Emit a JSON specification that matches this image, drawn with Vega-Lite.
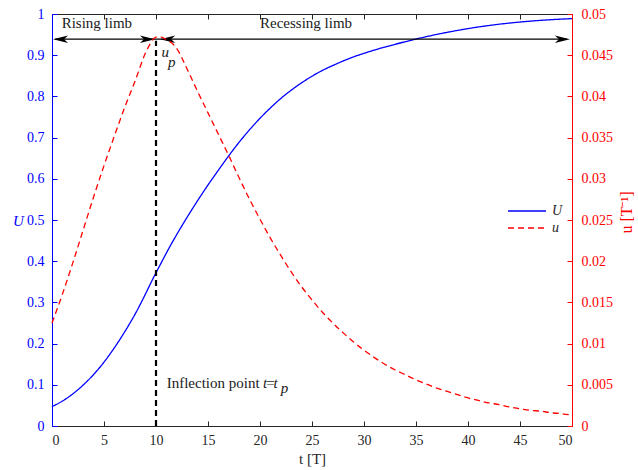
{
  "$schema": "https://vega.github.io/schema/vega-lite/v6.json",
  "width": 520,
  "height": 412,
  "autosize": {"type": "none"},
  "padding": {"left": 52, "top": 14, "right": 66, "bottom": 44},
  "background": "white",
  "config": {
    "view": {"stroke": null},
    "font": "Liberation Serif, Times New Roman, serif",
    "axis": {"grid": false, "labelFont": "Liberation Serif, Times New Roman, serif", "titleFont": "Liberation Serif, Times New Roman, serif", "labelFontSize": 14, "titleFontSize": 15, "titleFontWeight": "normal", "tickSize": -5, "domainWidth": 1, "tickWidth": 1},
    "legend": {"labelFont": "Liberation Serif, Times New Roman, serif", "padding": 0}
  },
  "datasets": {
    "curves": [
      {"t": 0, "U": 0.047, "u": 0.0125}, {"t": 1, "U": 0.0605, "u": 0.016}, {"t": 2, "U": 0.078, "u": 0.0198},
      {"t": 3, "U": 0.0995, "u": 0.0238}, {"t": 4, "U": 0.125, "u": 0.0278}, {"t": 5, "U": 0.155, "u": 0.0316},
      {"t": 6, "U": 0.19, "u": 0.0352}, {"t": 7, "U": 0.229, "u": 0.0387}, {"t": 8, "U": 0.272, "u": 0.0419},
      {"t": 9, "U": 0.321, "u": 0.0453}, {"t": 9.5, "U": 0.347, "u": 0.0465}, {"t": 10, "U": 0.372, "u": 0.0472},
      {"t": 10.5, "U": 0.396, "u": 0.0472}, {"t": 11, "U": 0.42, "u": 0.0469}, {"t": 11.5, "U": 0.443, "u": 0.0465},
      {"t": 12, "U": 0.465, "u": 0.0458},
      {"t": 13, "U": 0.507, "u": 0.0433}, {"t": 14, "U": 0.547, "u": 0.0406}, {"t": 15, "U": 0.585, "u": 0.038},
      {"t": 16, "U": 0.621, "u": 0.0354}, {"t": 17, "U": 0.656, "u": 0.0328}, {"t": 18, "U": 0.689, "u": 0.0301},
      {"t": 19, "U": 0.719, "u": 0.0275}, {"t": 20, "U": 0.747, "u": 0.0251}, {"t": 21, "U": 0.772, "u": 0.0228},
      {"t": 22, "U": 0.795, "u": 0.0207}, {"t": 23, "U": 0.815, "u": 0.0187}, {"t": 24, "U": 0.833, "u": 0.0169},
      {"t": 25, "U": 0.849, "u": 0.0153}, {"t": 26, "U": 0.863, "u": 0.0138}, {"t": 27, "U": 0.875, "u": 0.0125},
      {"t": 28, "U": 0.886, "u": 0.0113}, {"t": 29, "U": 0.896, "u": 0.0102}, {"t": 30, "U": 0.9045, "u": 0.0092},
      {"t": 31, "U": 0.9125, "u": 0.0083}, {"t": 32, "U": 0.9197, "u": 0.0075}, {"t": 33, "U": 0.9265, "u": 0.0068},
      {"t": 34, "U": 0.933, "u": 0.0062}, {"t": 35, "U": 0.9392, "u": 0.0056}, {"t": 36, "U": 0.945, "u": 0.0051},
      {"t": 37, "U": 0.9505, "u": 0.0046}, {"t": 38, "U": 0.9555, "u": 0.0042}, {"t": 39, "U": 0.9602, "u": 0.0038},
      {"t": 40, "U": 0.9645, "u": 0.0034}, {"t": 41, "U": 0.9685, "u": 0.0031}, {"t": 42, "U": 0.972, "u": 0.0028},
      {"t": 43, "U": 0.9752, "u": 0.0026}, {"t": 44, "U": 0.978, "u": 0.0023}, {"t": 45, "U": 0.9805, "u": 0.0021},
      {"t": 46, "U": 0.9827, "u": 0.0019}, {"t": 47, "U": 0.9846, "u": 0.0018}, {"t": 48, "U": 0.9862, "u": 0.0016},
      {"t": 49, "U": 0.9876, "u": 0.0015}, {"t": 50, "U": 0.9888, "u": 0.0013}
    ],
    "heads": [
      {"t": 0.1, "U": 0.939, "dir": "left"},
      {"t": 9.9, "U": 0.939, "dir": "right"},
      {"t": 10.4, "U": 0.939, "dir": "left"},
      {"t": 49.8, "U": 0.939, "dir": "right"}
    ],
    "normalText": [
      {"t": 0.93, "U": 0.965, "text": "Rising limb"},
      {"t": 20.0, "U": 0.965, "text": "Recessing limb"},
      {"t": 11.03, "U": 0.092, "text": "Inflection point"},
      {"t": 20.6, "U": 0.092, "text": "="}
    ],
    "italicText": [
      {"t": 10.52, "U": 0.896, "text": "u"},
      {"t": 11.15, "U": 0.872, "text": "p"},
      {"t": 20.3, "U": 0.092, "text": "t"},
      {"t": 21.3, "U": 0.092, "text": "t"},
      {"t": 22.0, "U": 0.08, "text": "p"}
    ]
  },
  "layer": [
    {
      "layer": [
        {
          "data": {"name": "curves"},
          "mark": {"type": "line", "strokeWidth": 1.3, "interpolate": "monotone"},
          "encoding": {
            "x": {"field": "t", "type": "quantitative", "scale": {"domain": [0, 50], "nice": false},
              "axis": {"orient": "bottom", "values": [0, 5, 10, 15, 20, 25, 30, 35, 40, 45, 50], "format": "~g", "labelColor": "#262626", "tickColor": "#262626", "domainColor": "#262626", "labelPadding": 12, "title": "t [T]", "titleColor": "#262626", "titlePadding": 4}},
            "y": {"field": "U", "type": "quantitative", "scale": {"domain": [0, 1], "nice": false},
              "axis": {"orient": "left", "values": [0, 0.1, 0.2, 0.3, 0.4, 0.5, 0.6, 0.7, 0.8, 0.9, 1], "format": "~g", "labelColor": "#0000ff", "tickColor": "#0000ff", "domainColor": "#0000ff", "labelPadding": 13, "title": "U", "titleColor": "#0000ff", "titleFontStyle": "italic", "titleAngle": 0, "titleX": -34, "titleY": 206, "titleAlign": "center", "titleBaseline": "middle"}},
            "color": {"datum": "U", "type": "nominal", "scale": {"domain": ["U", "u"], "range": ["#0000ff", "#ff0000"]},
              "legend": {"title": null, "orient": "none", "legendX": 468, "legendY": 190, "symbolType": "M-3.8,0L3.8,0", "symbolSize": 100, "symbolStrokeWidth": 1.3, "labelFontSize": 14, "labelFontStyle": "italic", "labelColor": "#262626", "rowPadding": 3, "labelOffset": 18}},
            "strokeDash": {"datum": "U", "type": "nominal", "scale": {"domain": ["U", "u"], "range": [[1, 0], [6, 4]]},
              "legend": {"title": null, "orient": "none", "legendX": 468, "legendY": 190, "symbolType": "M-3.8,0L3.8,0", "symbolSize": 100, "symbolStrokeWidth": 1.3, "labelFontSize": 14, "labelFontStyle": "italic", "labelColor": "#262626", "rowPadding": 3, "labelOffset": 18}}
          }
        },
        {
          "data": {"values": [{"t": 10, "U0": 0, "U1": 0.935}]},
          "mark": {"type": "rule", "color": "black", "strokeWidth": 2.2, "strokeDash": [6, 4]},
          "encoding": {
            "x": {"field": "t", "type": "quantitative"},
            "y": {"field": "U0", "type": "quantitative"},
            "y2": {"field": "U1"}
          }
        },
        {
          "data": {"values": [{"t0": 0.3, "t1": 49.5, "U": 0.939}]},
          "mark": {"type": "rule", "color": "black", "strokeWidth": 1.2},
          "encoding": {
            "x": {"field": "t0", "type": "quantitative"},
            "x2": {"field": "t1"},
            "y": {"field": "U", "type": "quantitative"}
          }
        },
        {
          "data": {"name": "heads"},
          "mark": {"type": "point", "filled": true, "color": "black", "opacity": 1, "size": 100, "strokeWidth": 0},
          "encoding": {
            "x": {"field": "t", "type": "quantitative"},
            "y": {"field": "U", "type": "quantitative"},
            "shape": {"field": "dir", "type": "nominal", "legend": null,
              "scale": {"domain": ["left", "right"], "range": ["M0,0L3,-0.75L2.2,0L3,0.75Z", "M0,0L-3,-0.75L-2.2,0L-3,0.75Z"]}}
          }
        },
        {
          "data": {"name": "normalText"},
          "mark": {"type": "text", "align": "left", "baseline": "alphabetic", "fontSize": 15, "font": "Liberation Serif, Times New Roman, serif", "color": "#1a1a1a"},
          "encoding": {
            "x": {"field": "t", "type": "quantitative"},
            "y": {"field": "U", "type": "quantitative"},
            "text": {"field": "text"}
          }
        },
        {
          "data": {"name": "italicText"},
          "mark": {"type": "text", "align": "left", "baseline": "alphabetic", "fontSize": 15, "font": "Liberation Serif, Times New Roman, serif", "fontStyle": "italic", "color": "#1a1a1a"},
          "encoding": {
            "x": {"field": "t", "type": "quantitative"},
            "y": {"field": "U", "type": "quantitative"},
            "text": {"field": "text"}
          }
        }
      ]
    },
    {
      "data": {"name": "curves"},
      "mark": {"type": "line", "strokeWidth": 1.3, "interpolate": "monotone"},
      "encoding": {
        "x": {"field": "t", "type": "quantitative",
          "axis": {"orient": "top", "values": [0, 5, 10, 15, 20, 25, 30, 35, 40, 45, 50], "labels": false, "tickColor": "#262626", "domainColor": "#262626", "title": null}},
        "y": {"field": "u", "type": "quantitative", "scale": {"domain": [0, 0.05], "nice": false},
          "axis": {"orient": "right", "values": [0, 0.005, 0.01, 0.015, 0.02, 0.025, 0.03, 0.035, 0.04, 0.045, 0.05], "format": "~g", "labelColor": "#ff0000", "tickColor": "#ff0000", "domainColor": "#ff0000", "labelPadding": 14, "title": "u [T⁻¹]", "titleColor": "#ff0000", "titleAngle": -90, "titleX": 54, "titleY": 198, "titleAlign": "center", "titleBaseline": "middle", "titleFontSize": 16}},
        "color": {"datum": "u", "type": "nominal"},
        "strokeDash": {"datum": "u", "type": "nominal"}
      }
    }
  ],
  "resolve": {"scale": {"y": "independent"}, "axis": {"x": "independent"}}
}
